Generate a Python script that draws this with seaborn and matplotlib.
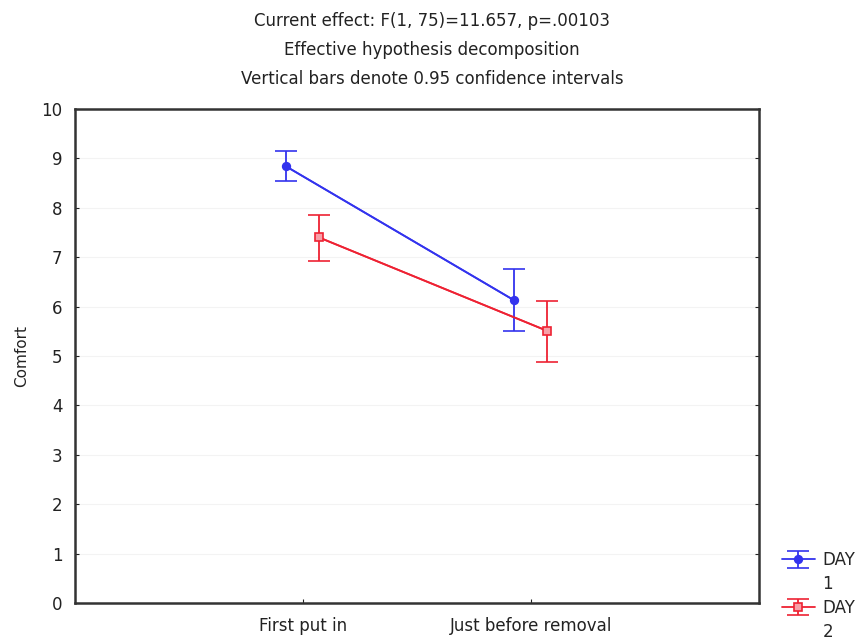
import numpy as np
import pandas as pd
import seaborn as sns
import matplotlib
matplotlib.use("Agg")
import matplotlib.pyplot as plt
from matplotlib.lines import Line2D

sns.set_style("white")
plt.rcParams["font.family"] = ["DejaVu Sans"]

# Mean comfort ratings with 0.95 confidence limits
conditions = ["First put in", "Just before removal"]
days = ["DAY", "DAY"]
day_numbers = ["1", "2"]
day1_mean = [8.84, 6.13]
day1_low = [8.54, 5.51]
day1_high = [9.14, 6.76]
day2_mean = [7.40, 5.51]
day2_low = [6.93, 4.88]
day2_high = [7.86, 6.12]

title_lines = [
    "Current effect: F(1, 75)=11.657, p=.00103",
    "Effective hypothesis decomposition",
    "Vertical bars denote 0.95 confidence intervals",
]

colors = ["#3333ee", "#ee2233"]
faces = ["#3333ee", "#f7a0a8"]
markers = ["o", "s"]
offsets = [-0.075, 0.07]

rows = []
for d, (mean, lo, hi) in enumerate([(day1_mean, day1_low, day1_high),
                                    (day2_mean, day2_low, day2_high)]):
    for i, c in enumerate(conditions):
        rows.append({"day": f"{days[d]} {day_numbers[d]}", "pos": i + offsets[d],
                     "mean": mean[i], "low": lo[i], "high": hi[i]})
df = pd.DataFrame(rows)

fig = plt.figure(figsize=(8.64, 6.43), dpi=100)
ax = fig.add_axes([0.0868, 0.0622, 0.7917, 0.7683])

sns.lineplot(data=df, x="pos", y="mean", hue="day", palette=colors,
             linewidth=1.3, ax=ax, legend=False, sort=False)

handles = []
for d, day in enumerate(df["day"].unique()):
    sub = df[df["day"] == day]
    yerr = np.vstack([sub["mean"] - sub["low"], sub["high"] - sub["mean"]])
    h = ax.errorbar(sub["pos"], sub["mean"], yerr=yerr, fmt=markers[d] + "-",
                    color=colors[d], ecolor=colors[d], markersize=5.5,
                    markerfacecolor=faces[d], markeredgewidth=1.2,
                    linewidth=1.3, elinewidth=1.3, capsize=8, capthick=1.3)
    handles.append(h)

ax.set_xlim(-1, 2)
ax.set_ylim(0, 10)
ax.set_xticks(range(len(conditions)))
ax.set_xticklabels(conditions)
ax.set_yticks(range(0, 11))
ax.set_xlabel("")
ax.set_ylabel("Comfort", fontsize=11, color="#222222", labelpad=9)
ax.tick_params(axis="both", direction="in", length=3, labelsize=12,
               colors="#222222", right=True, bottom=True, left=True)
ax.tick_params(axis="x", pad=10)
ax.tick_params(axis="y", pad=9)
for s in ax.spines.values():
    s.set_linewidth(1.8)
    s.set_color("#333333")
ax.grid(axis="y", color="#f3f3f3", linewidth=0.8)

for k, line in enumerate(title_lines):
    fig.text(0.5, 0.967 - k * 0.045, line, ha="center", va="center",
             fontsize=12, color="#222222")

# Legend: the day number sits on its own row under each entry
blank = Line2D([], [], linestyle="none")
leg_handles = [handles[0], blank, handles[1], blank]
leg_labels = [days[0], day_numbers[0], days[1], day_numbers[1]]
fig.legend(handles=leg_handles, labels=leg_labels, loc="lower left",
           bbox_to_anchor=(0.893, -0.012), frameon=False, fontsize=12,
           handlelength=2.0, handletextpad=0.45, labelspacing=0.35,
           borderpad=0.1)

fig.savefig("out.png", dpi=100, facecolor="white")
